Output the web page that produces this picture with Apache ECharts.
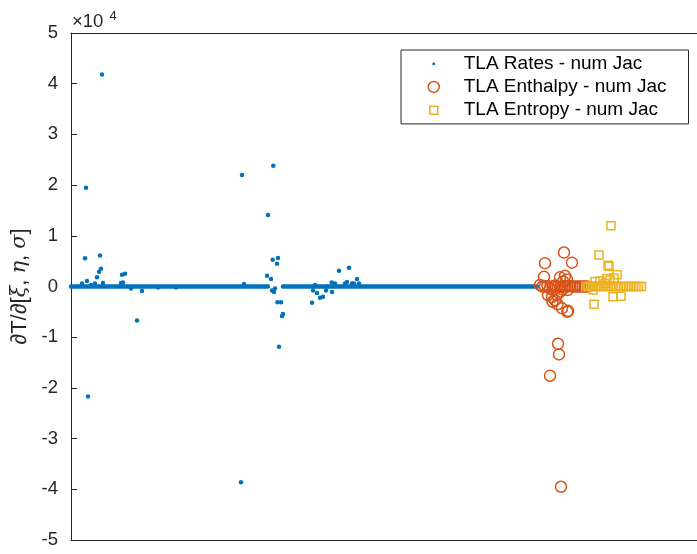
<!DOCTYPE html>
<html>
<head>
<meta charset="utf-8">
<script src="https://cdn.jsdelivr.net/npm/echarts@6/dist/echarts.min.js"></script>
<style>html,body{margin:0;padding:0;background:#fff;}#c{width:697px;height:554px;}</style>
</head>
<body>
<div id="c"></div>
<script>
// sample index range along x (no labels shown)
const xRange = [0, 626];
// y axis ticks (units of 1e4)
const yTickValues = [-5, -4, -3, -2, -1, 0, 1, 2, 3, 4, 5];
const yScale = 10000;

// TLA Rates: dense zero band (segments, broken where data leaves zero)
const ratesBand = [[0, 0], [197, 0], [204, '-'], [212, 0], [466, 0]];
// TLA Rates: individual points off the zero band
const ratesPoints = [
  [11, 600], [14, 5560], [15, 19500], [16, 1100], [17, -21700], [20, 300],
  [24, 600], [26, 1800], [28, 2900], [29, 6100], [30, 3500], [31, 41800],
  [32, 700], [50, 700], [51, 2300], [52, 800], [54, 2500], [60, -400],
  [66, -6700], [71, -900], [87, -200], [105, -200],
  [170, -38600], [171, 22000], [173, 500], [196, 2100], [197, 14100],
  [200, 1500], [201, -800], [201.7, 5300], [202.3, 23800], [203, -1100],
  [204, -400], [206, 4500], [206.5, -3100], [207, 5600], [208, -11900],
  [210, -3100], [211, -5800], [212, -5400],
  [241, -3200], [242, -800], [244, 300], [246, -1300], [249, -2200],
  [252, -2000], [255, -800], [256, 0], [260.7, 800], [261, -1100],
  [264, 600], [268, 3100], [274, 600], [276, 900], [278, 3700],
  [281, 600], [283, 600], [286, 1500], [288, 600]
];
// TLA Enthalpy points
const enthalpyPoints = [
  [469, 300], [471.5, 0], [474, 0], [476.5, 100], [479, -400], [481.5, 0],
  [484, 200], [486.5, 0], [489, -100], [491.5, 100], [494, 0], [496.5, 0],
  [499, 100], [501.5, 0], [504, 0], [506.5, 0], [509, 0], [511.5, 0], [514, 0], [516.5, 0],
  [473, 1900], [474, 4600], [477, -1700], [479, -17600], [481, -2100],
  [481.5, -3000], [482, -700], [484, -2700], [486, -1700], [486.5, -3500],
  [487, -11300], [488, -13400], [489, 1800], [489.5, -1000], [490, -39500],
  [491, -4300], [491.5, -600], [492, 1000], [493, 6700], [494, 2100],
  [496, 1400], [496.3, -5000], [496.6, -700], [497, -4800], [501, 4700]
];
// TLA Entropy points
const entropyPoints = [
  [515, 0], [517.5, 0], [520, 100], [522.5, 0], [525, 0], [527.5, 0],
  [530, 0], [532.5, 100], [535, 0], [537.5, 0], [540, 0], [542.5, 0],
  [545, 0], [547.5, 0], [550, 0], [552.5, 0], [555, 0], [557.5, 0],
  [560, 0], [562.5, 0], [565, 0], [567.5, 0], [570.5, 0],
  [522, -700], [523, -3500], [524, 1000], [529, 1100], [528, 6200],
  [534, 600], [536, 1600], [537, 4200], [538, 4000], [539, 1300],
  [540, 12000], [542, -2000], [543, 1700], [546, 2300], [550, -1900]
];

const names = ['TLA Rates - num Jac', 'TLA Enthalpy - num Jac', 'TLA Entropy - num Jac'];
const colors = ['#0072BD', '#D95319', '#EDB120'];

const chart = echarts.init(document.getElementById('c'), null, {renderer: 'canvas'});
const font = 'Liberation Sans, Arial, Helvetica, sans-serif';
chart.setOption({
  animation: false,
  backgroundColor: '#fff',
  title: {
    text: '×10{sup|4}',
    left: 72, top: 10,
    padding: 0,
    textStyle: {
      fontFamily: font, fontSize: 18.5, fontWeight: 'normal', color: '#262626', lineHeight: 24,
      rich: { sup: { fontFamily: font, fontSize: 13, color: '#262626', verticalAlign: 'top', lineHeight: 13, padding: [0, 0, 0, 6] } }
    }
  },
  grid: { left: 71, right: 0, top: 33, bottom: 14, containLabel: false },
  legend: {
    orient: 'vertical',
    left: 401, top: 50,
    padding: [2, 22, 2, 7],
    itemGap: 0,
    itemWidth: 50, itemHeight: 12,
    symbolKeepAspect: false,
    backgroundColor: '#fff',
    borderColor: '#262626', borderWidth: 1,
    textStyle: { fontFamily: font, fontSize: 19, color: '#000', lineHeight: 23.3 },
    data: [
      { name: names[0], icon: 'path://M0,0M50,12M25,4.5A1.5,1.5,0,1,1,25,7.5A1.5,1.5,0,1,1,25,4.5Z',
        itemStyle: { color: colors[0], borderWidth: 0 } },
      { name: names[1], icon: 'path://M0,0M50,12M25,0.5A5.5,5.5,0,1,1,25,11.5A5.5,5.5,0,1,1,25,0.5Z',
        itemStyle: { color: 'rgba(0,0,0,0)', borderColor: colors[1], borderWidth: 1.5 } },
      { name: names[2], icon: 'path://M0,0M50,12M21,2L29,2L29,10L21,10Z',
        itemStyle: { color: 'rgba(0,0,0,0)', borderColor: colors[2], borderWidth: 1.5 } }
    ]
  },
  xAxis: [
    { type: 'value', min: xRange[0], max: xRange[1], position: 'bottom',
      axisLine: { show: true, onZero: false, lineStyle: { color: '#262626', width: 1 } },
      axisTick: { show: false }, axisLabel: { show: false }, splitLine: { show: false } },
    { type: 'value', min: xRange[0], max: xRange[1], position: 'top',
      axisLine: { show: true, onZero: false, lineStyle: { color: '#262626', width: 1 } },
      axisTick: { show: false }, axisLabel: { show: false }, splitLine: { show: false } }
  ],
  yAxis: {
    type: 'value', min: yTickValues[0] * yScale, max: yTickValues[yTickValues.length - 1] * yScale,
    interval: yScale,
    axisLine: { show: true, onZero: false, lineStyle: { color: '#262626', width: 1 } },
    axisTick: { show: true, inside: true, length: 6, lineStyle: { color: '#262626' } },
    axisLabel: { margin: 13, fontFamily: font, fontSize: 18.5, color: '#262626',
      formatter: v => String(Math.round(v / yScale)) },
    splitLine: { show: false },
    name: '∂T/∂[{g|ξ}, {g|η}, {g|σ}]',
    nameLocation: 'middle', nameGap: 38, nameRotate: 90,
    nameTextStyle: { fontFamily: font, fontSize: 22, color: '#262626',
      rich: { g: { fontFamily: 'DejaVu Serif, serif', fontStyle: 'italic', fontSize: 21, color: '#262626' } } }
  },
  series: [
    { name: 'ratesBand', type: 'line', data: ratesBand, showSymbol: false, symbol: 'none',
      connectNulls: false, silent: true,
      lineStyle: { color: colors[0], width: 4.5, cap: 'round' }, z: 2 },
    { name: names[0], type: 'scatter', data: ratesPoints, symbol: 'circle', symbolSize: 4.5,
      itemStyle: { color: colors[0], opacity: 1 }, z: 3 },
    { name: names[1], type: 'scatter', data: enthalpyPoints, symbol: 'circle', symbolSize: 11,
      itemStyle: { color: 'rgba(0,0,0,0)', borderColor: colors[1], borderWidth: 1.5, opacity: 1 }, z: 4 },
    { name: names[2], type: 'scatter', data: entropyPoints, symbol: 'rect', symbolSize: 8,
      itemStyle: { color: 'rgba(0,0,0,0)', borderColor: colors[2], borderWidth: 1.5, opacity: 1 }, z: 5 }
  ]
});
</script>
</body>
</html>
